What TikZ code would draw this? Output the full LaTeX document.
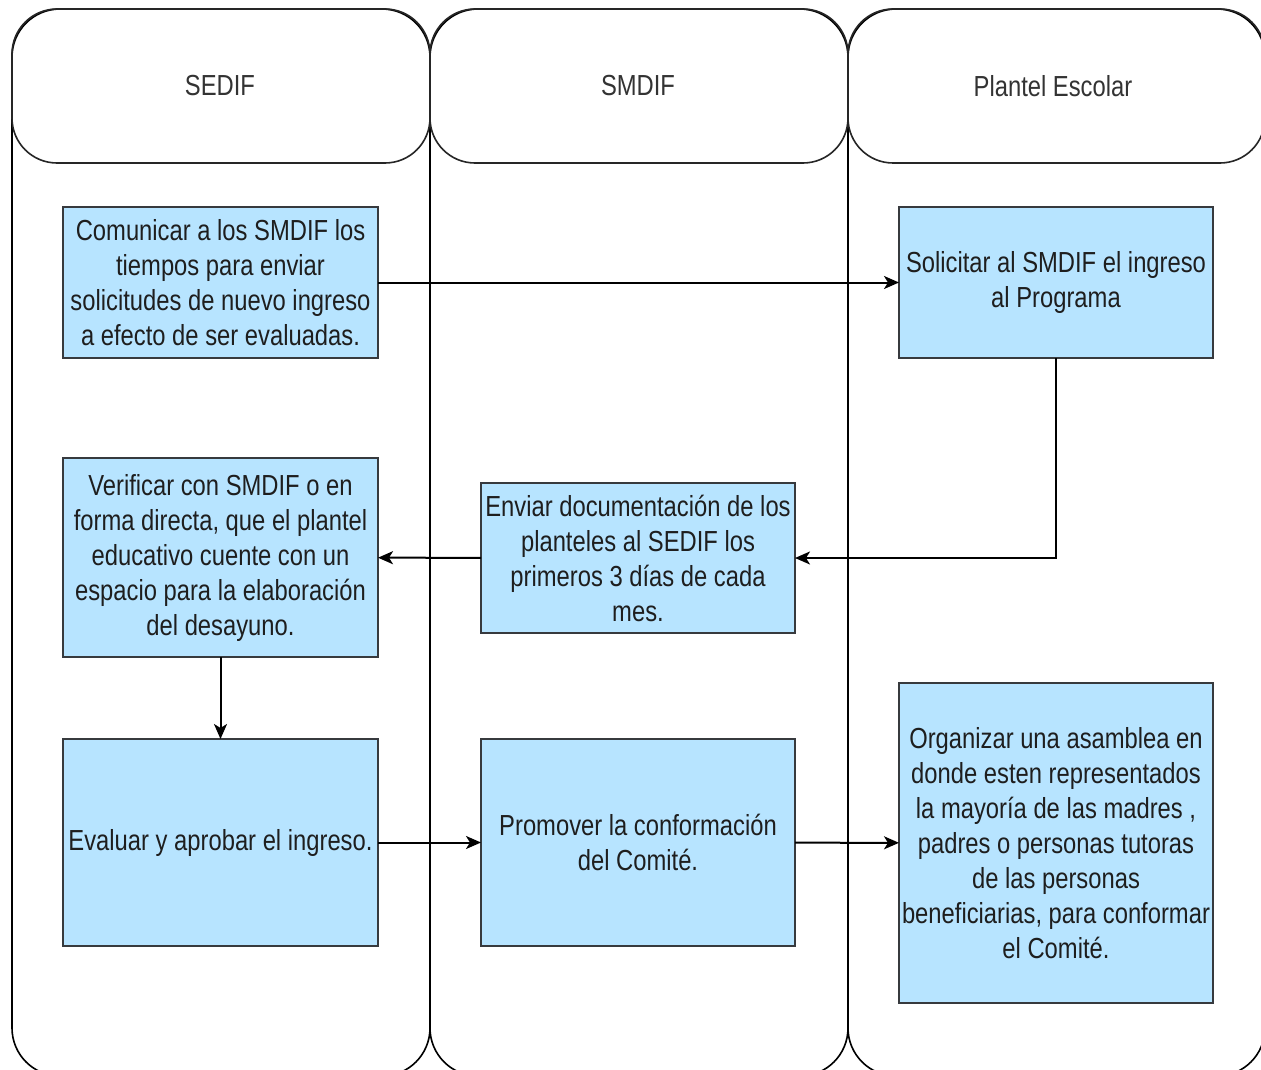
\documentclass[tikz,border=0pt]{standalone}
\usepackage{fontspec}
\setmainfont{Liberation Sans}[FakeStretch=0.82]
\usetikzlibrary{arrows.meta}
\definecolor{boxfill}{RGB}{183,228,255}
\definecolor{boxline}{RGB}{55,58,62}
\definecolor{txtcol}{RGB}{30,30,30}
\definecolor{headcol}{RGB}{51,51,51}
\begin{document}
\begin{tikzpicture}[x=1pt,y=-1pt,
  lane/.style={draw=black,line width=1.6pt,rounded corners=48pt},
  lanehead/.style={draw=black!85,line width=1.6pt,rounded corners=45pt},
  stepbox/.style={draw=boxline,fill=boxfill,line width=2pt,inner sep=0pt,outer sep=0pt,align=center,text=txtcol,font=\fontsize{29}{35}\selectfont},
  flow/.style={draw=black,line width=2pt,-{Stealth[length=15pt,width=13pt,inset=4pt]}},
  headtxt/.style={text=headcol,font=\fontsize{29}{35}\selectfont,inner sep=0pt}]
\useasboundingbox (0,0) rectangle (1261,1070);
\clip (0,0) rectangle (1261,1070);
\fill[white] (0,0) rectangle (1261,1070);

% lanes
\draw[lane] (12,9) rectangle (430,1076);
\draw[lane] (430,9) rectangle (848,1076);
\draw[lane] (848,9) rectangle (1265,1076);
\draw[lanehead] (12,9) rectangle (430,163);
\draw[lanehead] (430,9) rectangle (848,163);
\draw[lanehead] (848,9) rectangle (1265,163);
\node[headtxt] (h1) at (220,86) {SEDIF};
\node[headtxt] (h2) at (638,86) {SMDIF};
\node[headtxt] (h3) at (1053,86) {Plantel Escolar};

% steps
\node[stepbox,minimum width=315pt,minimum height=151pt] (b1) at (220.5,282.5)
  {Comunicar a los SMDIF los\\tiempos para enviar\\solicitudes de nuevo ingreso\\a efecto de ser evaluadas.};
\node[stepbox,minimum width=314pt,minimum height=151pt] (b2) at (1056,282.5)
  {Solicitar al SMDIF el ingreso\\al Programa};
\node[stepbox,minimum width=314pt,minimum height=150pt] (b3) at (638,558)
  {Enviar documentación de los\\planteles al SEDIF los\\primeros 3 días de cada\\mes.};
\node[stepbox,minimum width=315pt,minimum height=199pt] (b4) at (220.5,557.5)
  {Verificar con SMDIF o en\\forma directa, que el plantel\\educativo cuente con un\\espacio para la elaboración\\del desayuno.};
\node[stepbox,minimum width=315pt,minimum height=207pt] (b5) at (220.5,842.5)
  {Evaluar y aprobar el ingreso.};
\node[stepbox,minimum width=314pt,minimum height=207pt] (b6) at (638,842.5)
  {Promover la conformación\\del Comité.};
\node[stepbox,minimum width=314pt,minimum height=320pt] (b7) at (1056,843)
  {Organizar una asamblea en\\donde esten representados\\la mayoría de las madres ,\\padres o personas tutoras\\de las personas\\beneficiarias, para conformar\\el Comité.};

% connectors
\draw[flow] (b1) -- (b2);
\draw[flow] (b2.south) |- (b3.east);
\draw[flow] (b3) -- (b4);
\draw[flow] (b4) -- (b5);
\draw[flow] (b5) -- (b6);
\draw[flow] (b6) -- (b7);
\end{tikzpicture}
\end{document}
